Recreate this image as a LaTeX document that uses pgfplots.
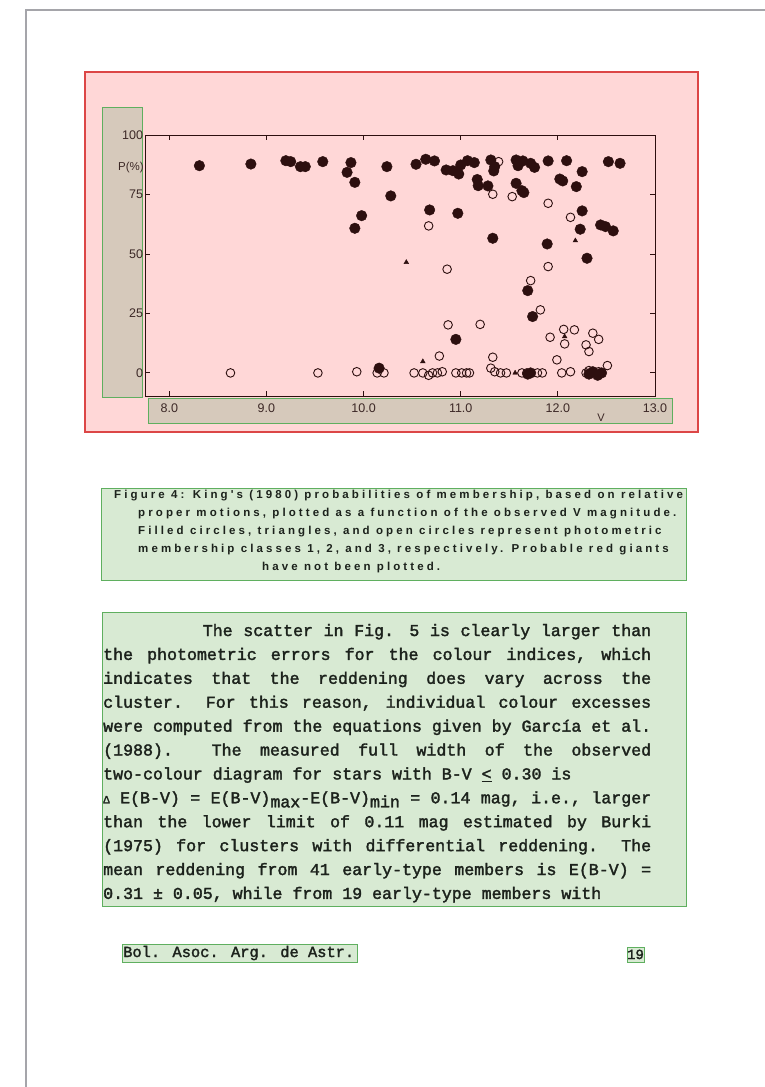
\documentclass[border=0pt]{standalone}
\usepackage{fontspec}
\usepackage{pgfplots}
\pgfplotsset{compat=1.18}
\setmainfont{Liberation Sans}
\newfontfamily\bodyfont{Liberation Mono}[FakeBold=2]
\newfontfamily\capfont{Liberation Sans Bold}[LetterSpace=27]

\definecolor{pinkbg}{RGB}{255,215,215}
\definecolor{redline}{RGB}{220,70,70}
\definecolor{tanbg}{RGB}{214,201,187}
\definecolor{greenbg}{RGB}{216,234,211}
\definecolor{greenline}{RGB}{95,175,95}
\definecolor{pageline}{RGB}{165,165,170}
\definecolor{markc}{RGB}{45,15,15}
\definecolor{labc}{RGB}{60,40,38}
\definecolor{textc}{RGB}{28,34,28}

\pgfplotstableread{
v p
8.31 87.1
8.84 87.8
9.20 89.2
9.25 88.8
9.35 86.7
9.40 86.7
9.58 88.8
9.87 88.4
9.83 84.3
9.91 80.1
9.98 66.1
9.91 60.8
10.24 86.7
10.28 74.4
10.16 2.0
10.54 87.7
10.64 89.8
10.73 89.1
10.85 85.3
10.92 85.0
10.98 83.6
11.00 87.4
11.07 89.2
11.14 88.4
11.31 89.5
11.35 86.7
11.34 84.9
11.57 89.5
11.59 87.1
11.64 89.1
11.72 88.1
11.76 86.4
11.90 89.1
12.09 89.2
12.25 84.6
12.52 88.8
12.64 88.1
11.17 81.3
11.18 78.7
11.28 78.6
11.57 79.7
11.63 76.6
11.65 75.8
12.02 81.5
12.05 80.7
12.19 78.3
10.68 68.5
10.97 67.1
12.25 68.1
12.23 60.4
12.44 62.2
12.49 61.5
12.57 59.7
11.33 56.6
11.89 54.2
12.30 48.2
11.69 34.6
11.74 23.7
10.95 14.1
11.69 -0.5
11.72 0
12.32 -0.5
12.36 0.5
12.41 -1
12.45 0
}\classone

\pgfplotstableread{
v p
10.44 46.5
12.18 55.6
10.61 4.8
12.07 15.3
11.56 0
}\classtwo

\pgfplotstableread{
v p
8.63 0
9.53 0
9.93 0.5
10.14 0
10.21 0
11.39 88.8
11.33 75.1
11.53 74.1
11.90 71.3
12.13 65.4
10.67 61.8
10.86 43.6
11.90 44.7
11.72 38.8
11.82 26.5
10.87 20.2
11.20 20.4
11.92 15.0
12.06 18.3
12.17 18.1
12.07 12.2
12.29 11.8
12.36 16.7
12.42 14.1
12.32 9.0
10.78 7.1
11.33 6.6
11.99 5.5
12.51 3.1
10.52 0
10.61 0
10.67 -1
10.71 0
10.76 0
10.81 0.5
10.95 0
11.01 0
11.06 0
11.09 0
11.31 2
11.35 0.5
11.41 0
11.47 0
11.63 0
11.68 0
11.79 0
11.84 0
12.04 0
12.13 0.5
12.29 0
12.32 1
12.42 0.5
}\classthree

\begin{document}
\begin{tikzpicture}[x=1pt,y=1pt]
% page
\path[use as bounding box, fill=white] (0,0) rectangle (765,-1087);
\draw[pageline, line width=2.5pt] (26,-1087) -- (26,-10) -- (765,-10);

% annotation boxes round the figure
\draw[redline, fill=pinkbg, line width=1.2pt] (85,-72) rectangle (698,-432);
\draw[greenline, fill=tanbg, line width=1pt] (102,-107) rectangle (142,-397);
\draw[greenline, fill=tanbg, line width=1pt] (148,-398) rectangle (672,-423);
\coordinate (axisorigin) at (145,-396);

\begin{axis}[
    at={(axisorigin)}, anchor=south west,
    scale only axis, width=510pt, height=261pt,
    xmin=7.75, xmax=13, ymin=-9.7, ymax=100,
    xtick={8,9,10,11,12,13},
    ytick={0,25,50,75,100},
    tick align=inside,
    major tick length=5pt,
    axis line style={draw=markc, line width=1pt},
    tick style={draw=markc, line width=0.9pt},
    /pgf/number format/assume math mode=true,
    tick label style={font=\fontsize{12.5}{14}\selectfont, text=labc},
    xticklabel style={yshift=-4pt, /pgf/number format/fixed,
        /pgf/number format/fixed zerofill, /pgf/number format/precision=1},
    yticklabel style={xshift=1.5pt},
    clip=false,
]
\addplot[only marks, mark=o, mark size=4.3pt,
    mark options={draw=markc, line width=0.9pt}] table[x=v, y=p] {\classthree};
\addplot[only marks, mark=*, mark size=5.3pt,
    mark options={draw=markc, fill=markc}] table[x=v, y=p] {\classone};
\addplot[only marks, mark=triangle*, mark size=2.7pt,
    mark options={draw=markc, fill=markc}] table[x=v, y=p] {\classtwo};
\end{axis}

\node[anchor=east, inner sep=0, text=labc, font=\fontsize{11.5}{13}\selectfont] at (144,-168) {P(\%)};
\node[inner sep=0, text=labc, font=\fontsize{11}{12}\selectfont] at (601,-418) {V};

% caption
\draw[greenline, fill=greenbg, line width=1pt] (101,-488) rectangle (686,-580);
\begin{scope}[every node/.style={anchor=base west, inner sep=0, text=textc,
    font=\capfont\fontsize{11.5}{13}\selectfont}]
\node at (114,-498.5) {Figure 4: King's (1980) probabilities of membership, based on relative};
\node at (138,-516.5) {proper motions, plotted as a function of the observed V magnitude.};
\node at (138,-534.5) {Filled circles, triangles, and open circles represent photometric};
\node at (138,-552.5) {membership classes 1, 2, and 3, respectively. Probable red giants};
\node at (262,-570.5) {have not been plotted.};
\end{scope}

% body text
\draw[greenline, fill=greenbg, line width=1pt] (102,-612) rectangle (686,-906);
\node[anchor=base west, inner sep=0, text=textc] at (103,-636) {\parbox[t]{548pt}{%
\bodyfont\fontsize{16.6}{23.9}\selectfont\spaceskip=0.6em plus 4em\relax
\makebox[548pt][s]{\hspace*{99.6pt}The scatter in Fig. 5 is clearly larger than}\\
\makebox[548pt][s]{the photometric errors for the colour indices, which}\\
\makebox[548pt][s]{indicates that the reddening does vary across the}\\
\makebox[548pt][s]{cluster. For this reason, individual colour excesses}\\
\makebox[548pt][s]{were computed from the equations given by García et al.}\\
\makebox[548pt][s]{(1988). The measured full width of the observed}\\
\makebox[548pt][l]{two-colour diagram for stars with B-V \underline{<} 0.30 is}\\
\makebox[548pt][s]{{\fontsize{11}{11}\selectfont Δ} E(B-V) = E(B-V)\raisebox{-4pt}{max}-E(B-V)\raisebox{-4pt}{min} = 0.14 mag, i.e., larger}\\
\makebox[548pt][s]{than the lower limit of 0.11 mag estimated by Burki}\\
\makebox[548pt][s]{(1975) for clusters with differential reddening. The}\\
\makebox[548pt][s]{mean reddening from 41 early-type members is E(B-V) =}\\
\makebox[548pt][l]{0.31 ± 0.05, while from 19 early-type members with}}};

% footer
\draw[greenline, fill=greenbg, line width=1pt] (122,-944) rectangle (357,-962);
\node[anchor=base west, inner sep=0, text=textc,
    font=\bodyfont\fontsize{15.4}{18}\selectfont] at (123,-957) {Bol. Asoc. Arg. de Astr.};
\draw[greenline, fill=greenbg, line width=1pt] (627,-947) rectangle (644,-962);
\node[anchor=base, inner sep=0, text=textc,
    font=\bodyfont\fontsize{14}{16}\selectfont] at (635.5,-959) {19};
\end{tikzpicture}
\end{document}
